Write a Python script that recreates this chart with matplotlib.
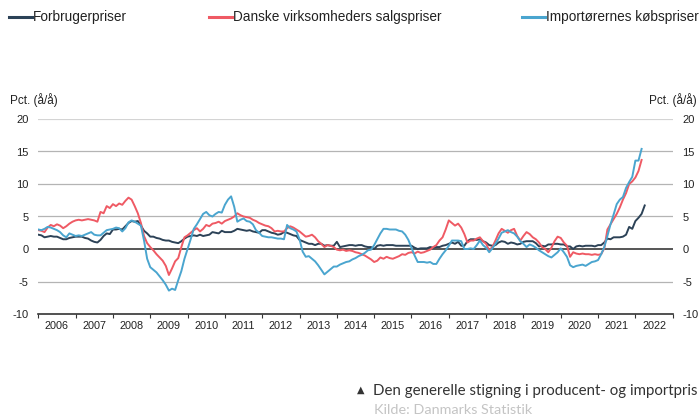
import numpy as np
import matplotlib.pyplot as plt
from matplotlib.lines import Line2D

plt.rcParams['font.family'] = ['Liberation Sans', 'DejaVu Sans']

# monthly y/y changes, Jan 2006 onwards
forbruger = [
    2.2, 2.1, 1.8, 1.9, 2.0, 1.9, 1.9, 1.7, 1.5, 1.5, 1.7, 1.8,   # 2006
    1.9, 1.9, 1.9, 1.7, 1.6, 1.3, 1.1, 1.0, 1.4, 2.0, 2.4, 2.3,   # 2007
    3.0, 3.0, 3.1, 3.0, 3.5, 4.0, 4.3, 4.2, 4.3, 3.6, 2.8, 2.4,   # 2008
    1.9, 1.9, 1.7, 1.6, 1.4, 1.3, 1.3, 1.1, 1.0, 0.9, 1.2, 1.6,   # 2009
    1.9, 2.0, 2.1, 2.0, 2.2, 2.0, 2.1, 2.2, 2.6, 2.5, 2.4, 2.8,   # 2010
    2.6, 2.6, 2.6, 2.8, 3.1, 3.0, 2.9, 2.8, 2.9, 2.7, 2.6, 2.5,   # 2011
    2.9, 2.9, 2.7, 2.5, 2.4, 2.2, 2.3, 2.6, 2.5, 2.3, 2.1, 2.0,   # 2012
    1.4, 1.2, 1.0, 0.8, 0.8, 0.6, 0.8, 0.8, 0.5, 0.6, 0.5, 0.5,   # 2013
    1.1, 0.3, 0.4, 0.5, 0.6, 0.6, 0.5, 0.6, 0.6, 0.4, 0.3, 0.3,   # 2014
    0.0, 0.5, 0.6, 0.5, 0.6, 0.6, 0.6, 0.5, 0.5, 0.5, 0.5, 0.5,   # 2015
    0.5, 0.2, 0.0, 0.1, 0.1, 0.1, 0.3, 0.2, 0.3, 0.3, 0.5, 0.6,   # 2016
    0.8, 1.0, 0.8, 1.1, 0.5, 0.5, 1.2, 1.5, 1.5, 1.4, 1.5, 1.2,   # 2017
    1.0, 0.6, 0.5, 0.6, 1.0, 1.2, 1.1, 0.8, 1.0, 0.9, 0.7, 0.8,   # 2018
    1.1, 1.2, 1.2, 1.2, 0.9, 0.4, 0.5, 0.4, 0.7, 0.7, 0.8, 0.8,   # 2019
    0.7, 0.7, 0.4, 0.4, 0.0, 0.4, 0.5, 0.4, 0.5, 0.5, 0.5, 0.4,   # 2020
    0.6, 0.6, 1.0, 1.6, 1.5, 1.8, 1.8, 1.8, 1.9, 2.2, 3.4, 3.1,   # 2021
    4.3, 4.8, 5.4, 6.7,                                           # 2022
]

salgspriser = [
    2.9, 2.8, 2.6, 3.3, 3.7, 3.5, 3.8, 3.6, 3.2, 3.5, 3.9, 4.2,
    4.4, 4.5, 4.4, 4.5, 4.6, 4.5, 4.4, 4.2, 5.7, 5.5, 6.6, 6.3,
    6.9, 6.6, 7.0, 6.8, 7.4, 7.9, 7.6, 6.6, 5.5, 4.0, 2.0, 0.9,
    0.3, -0.2, -0.8, -1.3, -1.8, -2.6, -4.0, -3.0, -1.9, -1.4, 0.3, 1.8,
    2.1, 2.5, 2.9, 3.2, 2.7, 3.1, 3.7, 3.5, 3.9, 4.0, 4.2, 3.9,
    4.3, 4.5, 4.7, 5.0, 5.5, 5.2, 5.0, 4.9, 4.8, 4.5, 4.3, 4.0,
    3.8, 3.6, 3.5, 3.2, 2.7, 2.8, 2.7, 2.7, 3.2, 3.5, 3.3, 3.0,
    2.7, 2.3, 1.9, 2.0, 2.2, 1.8, 1.2, 0.8, 0.3, 0.6, 0.5, 0.3,
    -0.1, -0.2, -0.1, -0.3, -0.2, -0.3, -0.5, -0.6, -0.8, -1.0, -1.3, -1.6,
    -2.0, -1.8, -1.3, -1.5, -1.2, -1.4, -1.5, -1.3, -1.1, -0.8, -0.9, -0.6,
    -0.5, -0.7, -0.4, -0.6, -0.5, -0.3, -0.1, 0.3, 0.6, 1.3, 1.8, 3.0,
    4.4, 4.0, 3.6, 3.9, 3.3, 2.3, 1.0, 1.3, 1.3, 1.6, 1.8, 1.2,
    0.8, -0.2, 0.3, 1.3, 2.4, 3.1, 2.8, 2.5, 2.9, 3.1, 2.0, 1.3,
    2.0, 2.6, 2.3, 1.8, 1.5, 1.0, 0.3, 0.0, -0.5, 0.2, 1.2, 1.9,
    1.7, 1.0, 0.5, -1.2, -0.5, -0.7, -0.8, -0.7, -0.8, -0.8, -0.9, -0.8,
    -0.9, -0.8, 0.1, 3.0, 3.8, 4.6, 5.4, 6.4, 7.6, 8.6, 10.0, 10.4,
    11.0, 12.0, 13.7,
]

koebspriser = [
    3.0, 2.9, 3.1, 3.4, 3.3, 3.1, 2.9, 2.6, 2.1, 1.8, 2.4, 2.2,
    2.0, 2.1, 2.0, 2.2, 2.4, 2.6, 2.2, 2.1, 2.1, 2.5, 2.9, 3.0,
    3.1, 3.3, 3.2, 2.7, 3.2, 4.1, 4.4, 4.2, 3.9, 3.6, 1.3, -1.5,
    -2.8, -3.2, -3.6, -4.2, -4.8, -5.5, -6.4, -6.1, -6.3, -4.8, -3.4, -1.5,
    0.0, 1.5, 3.1, 3.8, 4.6, 5.4, 5.7, 5.2, 5.0, 5.4, 5.7, 5.6,
    6.8, 7.6, 8.1, 6.5, 4.2, 4.5, 4.7, 4.3, 4.2, 3.8, 2.9, 2.5,
    2.0, 1.9, 1.8, 1.8, 1.7, 1.6, 1.6, 1.5, 3.7, 3.2, 3.0, 2.7,
    1.5, -0.4, -1.2, -1.1, -1.5, -1.9, -2.5, -3.2, -3.9, -3.5, -3.1, -2.7,
    -2.7, -2.4, -2.2, -2.0, -1.9, -1.6, -1.4, -1.1, -0.9, -0.6, -0.2, -0.1,
    0.6, 1.5, 2.4, 3.1, 3.1, 3.0, 3.0, 3.0, 2.8, 2.7, 2.2, 1.4,
    0.2, -1.0, -2.0, -2.0, -2.0, -2.1, -2.0, -2.3, -2.3, -1.5, -0.8, -0.2,
    0.5, 1.3, 1.3, 1.3, 1.2, 0.0, 0.0, 0.1, 0.0, 0.6, 1.3, 0.6,
    0.2, -0.5, 0.1, 0.8, 1.6, 2.5, 2.7, 2.9, 2.6, 2.4, 1.9, 1.2,
    0.8, 0.3, 0.7, 0.5, 0.2, -0.2, -0.5, -0.8, -1.1, -1.3, -0.9, -0.5,
    0.1, -0.5, -1.2, -2.5, -2.8, -2.6, -2.5, -2.4, -2.6, -2.3, -2.0, -1.9,
    -1.7, -0.8, 0.3, 2.0, 3.8, 5.3, 6.9, 7.6, 8.0, 9.4, 10.3, 11.1,
    13.6, 13.6, 15.4,
]

labels = ['Forbrugerpriser', 'Danske virksomheders salgspriser', 'Importørernes købspriser']
colors = ['#2c4257', '#ef5a64', '#4aa5cf']
years = list(range(2006, 2023))
yticks = [-10, -5, 0, 5, 10, 15, 20]

W, H = 699, 419
fig = plt.figure(figsize=(W / 100, H / 100), dpi=100)
ax = fig.add_axes([38.3 / W, 1 - 314 / H, (672.7 - 38.3) / W, (314 - 119) / H])

for vals, c in zip([forbruger, salgspriser, koebspriser], colors):
    x = 2006 + np.arange(len(vals)) / 12
    ax.plot(x, vals, color=c, lw=1.4, solid_joinstyle='round', zorder=3)

ax.set_xlim(2006, 2023)
ax.set_ylim(-10, 20)

for v in yticks:
    if v == 0:
        ax.axhline(0, color='#555555', lw=1.4, zorder=2)
    elif v == 20:
        ax.axhline(v, color='#d4d4d4', lw=1.6, zorder=1)
    elif v != -10:
        ax.axhline(v, color='#b4b4b4', lw=0.9, zorder=1)

for s in ['top', 'left', 'right']:
    ax.spines[s].set_visible(False)
ax.spines['bottom'].set_color('#333333')
ax.spines['bottom'].set_linewidth(1.2)

ax.set_yticks(yticks)
ax.set_yticklabels([str(v) for v in yticks])
ax.tick_params(axis='y', left=False, right=False, labelleft=True, labelright=True,
               length=0, labelsize=8, pad=7, colors='#222222')

ax.set_xticks(years + [2023])
ax.set_xticklabels([])
ax.set_xticks([y + 0.5 for y in years], minor=True)
ax.set_xticklabels([str(y) for y in years], minor=True)
ax.tick_params(axis='x', which='major', direction='out', length=3, width=0.8, color='#333333')
ax.tick_params(axis='x', which='minor', length=0, labelsize=7.8, pad=5, colors='#222222')

fig.text(10 / W, 1 - 100 / H, 'Pct. (å/å)', fontsize=8.5, va='center', ha='left', color='#222222')
fig.text(697 / W, 1 - 100 / H, 'Pct. (å/å)', fontsize=8.5, va='center', ha='right', color='#222222')

# legend across the top
leg_x = [9, 209, 522]
for lx, lab, c in zip(leg_x, labels, colors):
    fig.add_artist(Line2D([lx / W, (lx + 23) / W], [1 - 17 / H, 1 - 17 / H],
                          transform=fig.transFigure, color=c, lw=2.2))
    fig.text((lx + 24) / W, 1 - 17 / H, lab, fontsize=9.8, va='center', ha='left', color='#222222')

fig.text(357 / W, 1 - 390 / H, '▲', fontsize=7, va='center', ha='left', color='#333333',
         family=['DejaVu Sans'])
fig.text(373 / W, 1 - 391 / H, 'Den generelle stigning i producent- og importpris',
         fontsize=10.8, va='center', ha='left', color='#333333', family=['Lato', 'DejaVu Sans'])
fig.text(374 / W, 1 - 410 / H, 'Kilde: Danmarks Statistik',
         fontsize=10.4, va='center', ha='left', color='#c4c4c4', family=['Lato', 'DejaVu Sans'])

fig.savefig('out.png', dpi=100)
